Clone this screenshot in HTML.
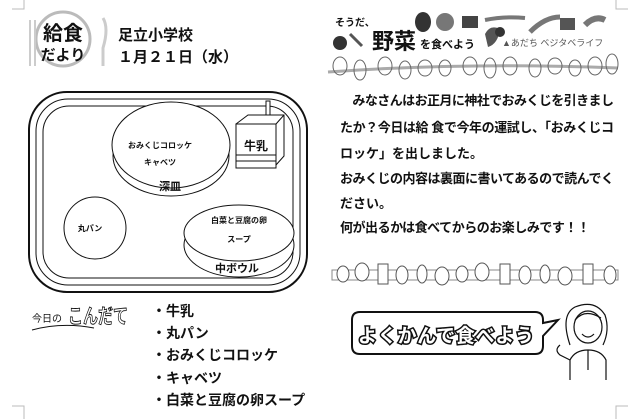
<!DOCTYPE html>
<html><head><meta charset="utf-8"><style>
html,body{margin:0;padding:0;background:#fff;}
svg{display:block;}
text{font-family:"Liberation Sans","Noto Sans CJK JP",sans-serif;font-weight:bold;fill:#111;}
</style></head><body>
<svg width="640" height="419" viewBox="0 0 640 419" xmlns="http://www.w3.org/2000/svg">
<path d="M12 9 H24 V0" fill="none" stroke="#bbb"/>
<path d="M616 0 V9 H628" fill="none" stroke="#bbb"/>
<path d="M12 406 H24 V419" fill="none" stroke="#bbb"/>
<path d="M616 419 V406 H628" fill="none" stroke="#bbb"/>

<circle cx="63" cy="39" r="27" fill="none" stroke="#bbb" stroke-width="3"/>
<path d="M30 20 V66 M35 20 V66" stroke="#ccc" stroke-width="2"/>
<path d="M103 18 q6 10 0 30 V66" stroke="#ccc" stroke-width="3" fill="none"/>
<text x="63" y="40" font-size="20" text-anchor="middle">給食</text>
<text x="63" y="60" font-size="15" text-anchor="middle">だより</text>
<text x="118" y="40" font-size="15">足立小学校</text>
<text x="118" y="62" font-size="15">１月２１日（水）</text>

<rect x="29" y="92" width="278" height="200" rx="38" fill="none" stroke="#111" stroke-width="2"/>
<rect x="36" y="99" width="264" height="186" rx="32" fill="none" stroke="#111" stroke-width="1"/>
<rect x="43" y="106" width="250" height="172" rx="26" fill="none" stroke="#111" stroke-width="1"/>
<ellipse cx="171" cy="156" rx="58" ry="40" fill="#fff" stroke="#111"/>
<ellipse cx="171" cy="145" rx="59" ry="43" fill="#fff" stroke="#111"/>
<text x="160" y="148" font-size="8" text-anchor="middle">おみくじコロッケ</text>
<text x="160" y="165" font-size="8" text-anchor="middle">キャベツ</text>
<text x="170" y="190" font-size="11" text-anchor="middle">深皿</text>
<rect x="266" y="101" width="4" height="18" fill="#fff" stroke="#111"/>
<path d="M236 124 L248 115 H284 V156 L276 165 Z" fill="#fff" stroke="#111"/>
<rect x="236" y="124" width="40" height="44" fill="#fff" stroke="#111"/>
<path d="M276 124 L284 115 M236 155 H276 M236 161 H276" stroke="#111" fill="none"/>
<text x="256" y="150" font-size="12" text-anchor="middle">牛乳</text>
<circle cx="95" cy="228" r="31" fill="#fff" stroke="#111"/>
<text x="90" y="231" font-size="8" text-anchor="middle">丸パン</text>
<ellipse cx="239" cy="245" rx="55" ry="32" fill="#fff" stroke="#111"/>
<ellipse cx="239" cy="233" rx="55" ry="28" fill="#fff" stroke="#111"/>
<text x="239" y="223" font-size="8" text-anchor="middle">白菜と豆腐の卵</text>
<text x="239" y="242" font-size="8" text-anchor="middle">スープ</text>
<text x="237" y="272" font-size="11" text-anchor="middle">中ボウル</text>

<text x="32" y="322" font-size="10" style="font-weight:normal">今日の</text>
<text x="68" y="323" font-size="20" stroke="#111" stroke-width="0.9" style="fill:#fff" textLength="60" lengthAdjust="spacingAndGlyphs">こんだて</text>
<path d="M32 330 q30 -8 62 -2" fill="none" stroke="#111"/>
<text x="152" y="316" font-size="14">・牛乳</text>
<text x="152" y="338" font-size="14">・丸パン</text>
<text x="152" y="360" font-size="14">・おみくじコロッケ</text>
<text x="152" y="383" font-size="14">・キャベツ</text>
<text x="152" y="405" font-size="14">・白菜と豆腐の卵スープ</text>

<text x="335" y="26" font-size="10">そうだ、</text>
<circle cx="340" cy="43" r="7" fill="#333"/>
<path d="M350 34 L362 46" stroke="#555" stroke-width="3"/>
<text x="372" y="49" font-size="22">野菜</text>
<text x="420" y="48" font-size="11">を食べよう</text>
<ellipse cx="423" cy="22" rx="8" ry="10" fill="#333"/>
<circle cx="445" cy="22" r="9" fill="#777"/>
<path d="M462 16 h16 v12 h-16z" fill="#444"/>
<path d="M485 20 q20 -4 40 -2" stroke="#777" stroke-width="4" fill="none"/>
<path d="M485 34 q5 -10 15 -5 q-2 15 -12 18z" fill="#555"/>
<circle cx="500" cy="32" r="5" fill="#333"/>
<path d="M530 32 q15 -15 30 -15" stroke="#777" stroke-width="5" fill="none"/>
<path d="M560 18 h15 v12 h-15z" fill="#555"/>
<path d="M585 25 q10 -10 20 -5" stroke="#777" stroke-width="6" fill="none"/>
<text x="502" y="46" font-size="9" style="font-weight:normal;fill:#555">▲あだち ベジタベライフ</text>
<path d="M328 72 q140 -10 290 -4" stroke="#aaa" stroke-width="3" fill="none"/>
<g fill="none" stroke="#666" stroke-width="1">
<ellipse cx="340" cy="66" rx="7" ry="9"/><ellipse cx="360" cy="70" rx="6" ry="10"/><ellipse cx="385" cy="66" rx="7" ry="9"/>
<ellipse cx="405" cy="70" rx="6" ry="9"/><ellipse cx="425" cy="68" rx="7" ry="8"/><ellipse cx="445" cy="68" rx="6" ry="8"/>
<ellipse cx="470" cy="66" rx="7" ry="9"/><ellipse cx="490" cy="68" rx="6" ry="10"/><ellipse cx="510" cy="66" rx="7" ry="9"/>
<ellipse cx="535" cy="68" rx="6" ry="9"/><ellipse cx="555" cy="66" rx="7" ry="8"/><ellipse cx="575" cy="68" rx="6" ry="8"/>
<ellipse cx="595" cy="66" rx="7" ry="9"/><ellipse cx="612" cy="64" rx="6" ry="10"/>
</g>
<g font-size="13">
<text x="340" y="105" textLength="274">　みなさんはお正月に神社でおみくじを引きまし</text>
<text x="340" y="132" textLength="274">たか？今日は給 食で今年の運試し、「おみくじコ</text>
<text x="340" y="158">ロッケ」を出しました。</text>
<text x="340" y="183" textLength="274">おみくじの内容は裏面に書いてあるので読んでく</text>
<text x="340" y="208">ださい。</text>
<text x="340" y="232" textLength="250">何が出るかは食べてからのお楽しみです！！</text>
</g>
<rect x="332" y="270" width="286" height="10" fill="none" stroke="#888"/>
<g fill="#fff" stroke="#555">
<ellipse cx="343" cy="274" rx="6" ry="8"/><ellipse cx="362" cy="272" rx="7" ry="9"/><rect x="378" y="264" width="10" height="20"/>
<ellipse cx="402" cy="275" rx="6" ry="9"/><ellipse cx="422" cy="274" rx="5" ry="9"/><ellipse cx="442" cy="276" rx="7" ry="9"/>
<ellipse cx="462" cy="274" rx="6" ry="8"/><ellipse cx="482" cy="272" rx="7" ry="9"/><rect x="500" y="264" width="10" height="20"/>
<ellipse cx="525" cy="275" rx="6" ry="9"/><ellipse cx="545" cy="274" rx="5" ry="9"/><ellipse cx="565" cy="276" rx="7" ry="9"/>
<rect x="583" y="264" width="10" height="20"/><ellipse cx="610" cy="275" rx="6" ry="9"/>
</g>

<path d="M360 312 H535 q8 0 8 8 V323 L558 320 L543 336 V346 q0 8 -8 8 H360 q-8 0 -8 -8 V320 q0 -8 8 -8z" fill="#fff" stroke="#111" stroke-width="2"/>
<text x="358" y="342" font-size="19" textLength="176" stroke="#111" stroke-width="3" paint-order="stroke" style="fill:#fff">よくかんで食べよう</text>
<g fill="none" stroke="#111" stroke-width="1.2">
<path d="M570 345 q-10 -30 5 -38 q20 -8 30 8 q5 15 -2 30"/>
<ellipse cx="588" cy="327" rx="14" ry="16" fill="#fff"/>
<path d="M575 320 q10 -12 26 -2"/>
<path d="M582 334 q6 6 12 0"/>
<path d="M570 380 V360 q5 -10 18 -10 q13 0 18 10 V380"/>
<path d="M588 350 v20"/>
<path d="M560 345 q-6 5 0 10 l10 5"/>
</g>
</svg>
</body></html>
